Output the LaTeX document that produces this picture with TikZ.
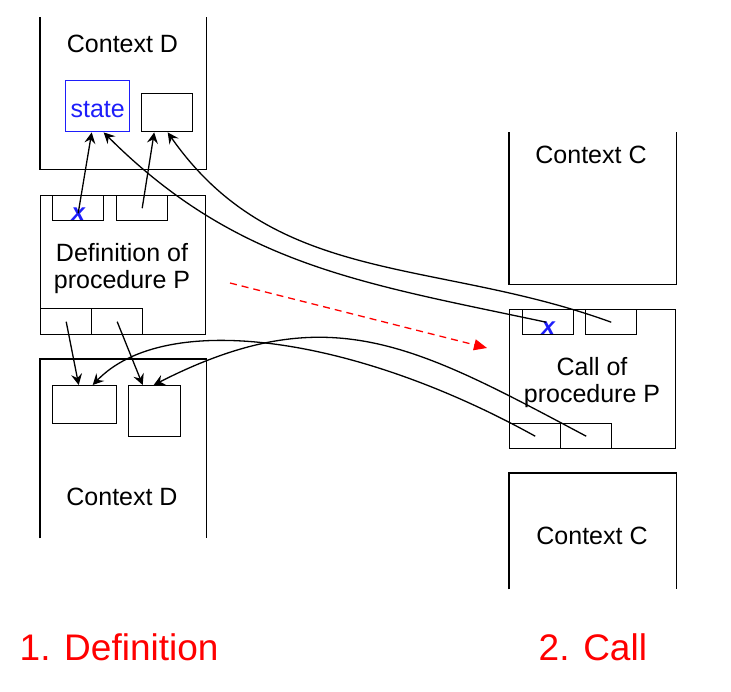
\documentclass[tikz,border=0pt]{standalone}
\usepackage{fontspec}
\setmainfont{Liberation Sans}
\usetikzlibrary{arrows.meta,calc}
\definecolor{stblue}{RGB}{30,30,250}
\definecolor{redc}{RGB}{255,0,0}
\begin{document}
\begin{tikzpicture}[x=1pt,y=-1pt,line width=1.4pt,
  box/.style={draw,line width=1.4pt,inner sep=0pt,anchor=north west},
  ctx/.style={inner sep=0pt,anchor=north west},
  lbl/.style={font=\fontsize{25}{26.5}\selectfont,inner sep=0pt,anchor=base,align=center},
  xl/.style={font=\fontsize{24}{26}\selectfont\bfseries\itshape,text=stblue,inner sep=0pt,anchor=base},
  big/.style={font=\fontsize{37}{40}\selectfont,text=redc,inner sep=0pt,anchor=base west},
  arr/.style={-{Stealth[length=11pt,width=11pt,inset=4pt]},line width=1.3pt},
  redarr/.style={-{Triangle[length=13pt,width=11pt]},draw=redc,line width=1.3pt,dash pattern=on 7pt off 5pt}]
\useasboundingbox (0,0) rectangle (731,691);
% Definition side
\node[ctx,minimum width=165pt,minimum height=151pt] (ctxDa) at (40,17) {};
\draw (ctxDa.north west) -- (ctxDa.south west) -- (ctxDa.south east) -- (ctxDa.north east);
\node[lbl] (tDa) at (122.5,52) {Context D};
\node[box,draw=stblue,minimum width=64pt,minimum height=51pt] (state) at (65,80) {};
\node[lbl,text=stblue] (tstate) at ([yshift=-11.5pt]state.center) {state};
\node[box,minimum width=51pt,minimum height=38pt] (emptyD) at (141,93) {};

\node[box,minimum width=165pt,minimum height=139pt] (defP) at (40,195) {};
\node[lbl] (tdef) at (122,288) {Definition of\\procedure P};
\node[box,minimum width=51pt,minimum height=25pt] (dx) at (52,195) {};
\node[xl] (dxl) at ([yshift=1pt]dx.south) {x};
\node[box,minimum width=51pt,minimum height=25pt] (dy) at (116,195) {};
\node[box,minimum width=51pt,minimum height=26pt] (db1) at (40,308) {};
\node[box,minimum width=51pt,minimum height=26pt] (db2) at (91,308) {};

\node[ctx,minimum width=165pt,minimum height=178pt] (ctxDb) at (40,359) {};
\draw (ctxDb.south west) -- (ctxDb.north west) -- (ctxDb.north east) -- (ctxDb.south east);
\node[box,minimum width=64pt,minimum height=38pt] (b1) at (52,385) {};
\node[box,minimum width=52pt,minimum height=51pt] (b2) at (128,385) {};
\node[lbl] (tDb) at (122,505) {Context D};

% Call side
\node[ctx,minimum width=166pt,minimum height=151pt] (ctxCa) at (509,132) {};
\draw (ctxCa.north west) -- (ctxCa.south west) -- (ctxCa.south east) -- (ctxCa.north east);
\node[lbl] (tCa) at (591,163) {Context C};

\node[box,minimum width=166pt,minimum height=139pt] (callP) at (509,309) {};
\node[lbl] (tcall) at (592,402) {Call of\\procedure P};
\node[box,minimum width=51pt,minimum height=25pt] (cx) at (522,309) {};
\node[xl] (cxl) at ([yshift=1pt]cx.south) {x};
\node[box,minimum width=51pt,minimum height=25pt] (cy) at (585,309) {};
\node[box,minimum width=51pt,minimum height=25pt] (cb1) at (509,423) {};
\node[box,minimum width=51pt,minimum height=25pt] (cb2) at (560,423) {};

\node[ctx,minimum width=166pt,minimum height=115pt] (ctxCb) at (509,473) {};
\draw (ctxCb.south west) -- (ctxCb.north west) -- (ctxCb.north east) -- (ctxCb.south east);
\node[lbl] (tCb) at (592,544) {Context C};

% arrows
\draw[arr] ([yshift=-5pt]dx.center) -- ([xshift=-6pt]state.south);
\draw[arr] (dy.center) -- ([xshift=-13pt]emptyD.south);
\draw[arr] ([xshift=-2pt]cx.center) to[out=168,in=-45] ([xshift=6pt]state.south);
\draw[arr] (cy.center) to[out=160,in=-55] ([xshift=0.5pt]emptyD.south);
\draw[arr] (db1.center) -- ([xshift=-6pt]b1.north);
\draw[arr] (db2.center) -- ([xshift=-12pt]b2.north);
\draw[arr] (cb1.center) to[out=151,in=46,out looseness=1.2,in looseness=0.6] ([xshift=8pt]b1.north);
\draw[arr] (cb2.center) to[out=152,in=27,looseness=1.15] ([xshift=-1pt]b2.north);

\coordinate (rs) at (230,283);
\coordinate (re) at (487,348);
\draw[redarr] (rs) -- (re);

\node[big] (l1) at (19,660) {1. Definition};
\node[big] (l2) at (538,660) {2. Call};
\end{tikzpicture}
\end{document}
